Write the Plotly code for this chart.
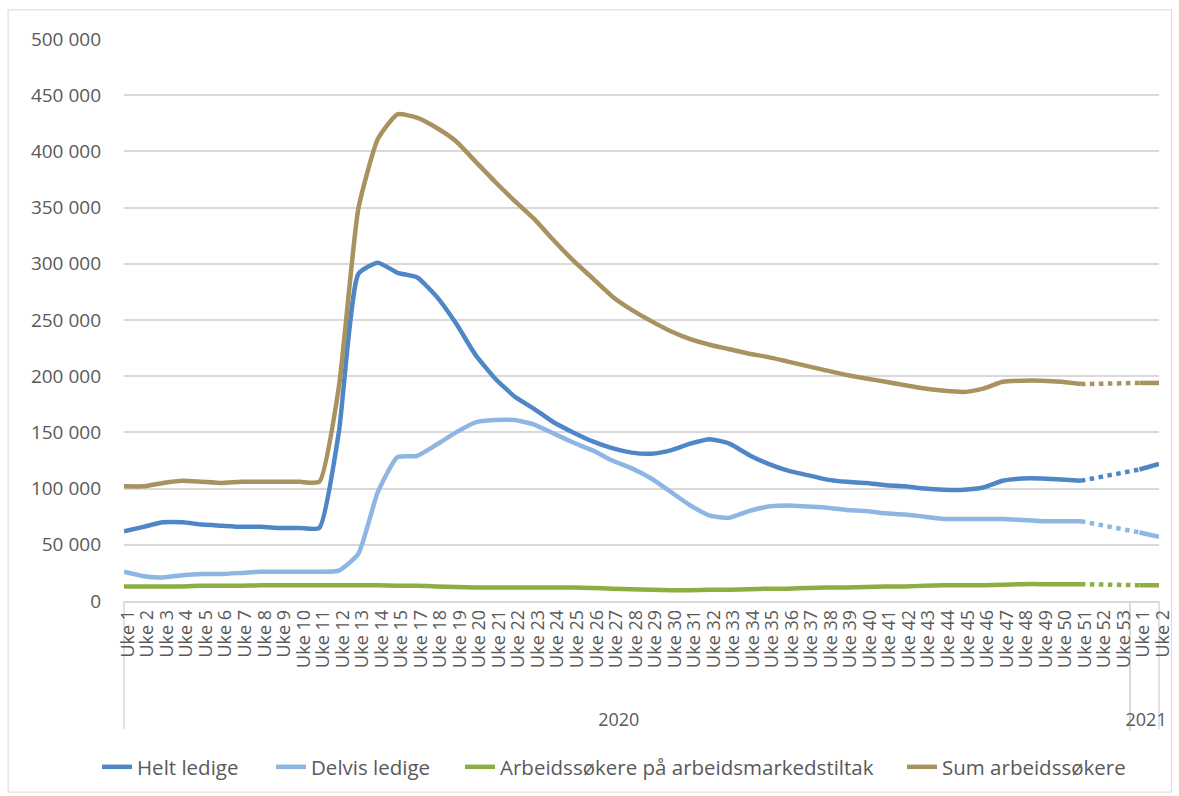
import plotly.graph_objects as go

weeks_2020 = [f"Uke {i}" for i in list(range(1, 16)) + list(range(17, 54))]
weeks_2021 = ["Uke 1", "Uke 2"]
year_labels = ["2020", "2021"]
years = [year_labels[0]] * len(weeks_2020) + [year_labels[1]] * len(weeks_2021)
weeks = weeks_2020 + weeks_2021

helt_ledige = [62000, 66000, 70000, 70000, 68000, 67000, 66000, 66000, 65000, 65000, 65000,
               150000, 291000, 301000, 292000, 288000, 271000, 247000, 219000, 198000, 182000,
               171000, 159000, 150000, 142000, 136000, 132000, 131000, 134000, 140000, 144000,
               140000, 130000, 122000, 116000, 112000, 108000, 106000, 105000, 103000, 102000,
               100000, 99000, 99000, 101000, 107000, 109000, 109000, 108000, 107000,
               None, None, 117000, 122000]
delvis_ledige = [26000, 22000, 21000, 23000, 24000, 24000, 25000, 26000, 26000, 26000, 26000,
                 27000, 42000, 97000, 128000, 129000, 139000, 150000, 159000, 161000, 161000,
                 157000, 149000, 141000, 134000, 125000, 118000, 109000, 97000, 85000, 76000,
                 74000, 80000, 84000, 85000, 84000, 83000, 81000, 80000, 78000, 77000,
                 75000, 73000, 73000, 73000, 73000, 72000, 71000, 71000, 71000,
                 None, None, 61000, 57000]
tiltak = [13000, 13000, 13000, 13000, 13500, 13500, 13500, 14000, 14000, 14000, 14000,
          14000, 14000, 14000, 13500, 13500, 13000, 12500, 12000, 12000, 12000,
          12000, 12000, 12000, 11500, 11000, 10500, 10000, 9500, 9500, 10000,
          10000, 10500, 11000, 11000, 11500, 12000, 12000, 12500, 13000, 13000,
          13500, 14000, 14000, 14000, 14500, 15000, 15000, 15000, 15000,
          None, None, 14000, 14000]
sum_arbeidssokere = [102000, 102000, 105000, 107000, 106000, 105000, 106000, 106000, 106000, 106000, 106000,
                     190000, 349000, 411000, 433000, 430000, 421000, 409000, 391000, 373000, 356000,
                     340000, 321000, 303000, 287000, 271000, 259000, 249000, 240000, 233000, 228000,
                     224000, 220000, 217000, 213000, 209000, 205000, 201000, 198000, 195000, 192000,
                     189000, 187000, 186000, 189000, 195000, 196000, 196000, 195000, 193000,
                     None, None, 194000, 194000]

series = [
    ("Helt ledige", helt_ledige, "#4F86C6", "legend", 97),
    ("Delvis ledige", delvis_ledige, "#8DB6E3", "legend2", 271),
    ("Arbeidssøkere på arbeidsmarkedstiltak", tiltak, "#8DAE44", "legend3", 460),
    ("Sum arbeidssøkere", sum_arbeidssokere, "#A8925F", "legend4", 902),
]

x = [["<br>" + y for y in years], weeks]
gap_start = len(weeks_2020) - 3  # Uke 51
gap_end = len(weeks_2020)        # Uke 1 2021

W, H = 1179, 796
fig = go.Figure()
legends = {}
for name, vals, color, lg, lx in series:
    solid_a = [v if i <= gap_start else None for i, v in enumerate(vals)]
    solid_b = [v if i >= gap_end else None for i, v in enumerate(vals)]
    fig.add_trace(go.Scatter(x=x, y=solid_a, name=name, mode="lines", legend=lg,
                             line=dict(color=color, width=4.5, shape="spline", smoothing=0.5),
                             connectgaps=False))
    fig.add_trace(go.Scatter(x=x, y=solid_b, name=name, mode="lines", showlegend=False,
                             line=dict(color=color, width=4.5, shape="spline", smoothing=0.5),
                             connectgaps=False))
    dotted = [v if i in (gap_start, gap_end) else None for i, v in enumerate(vals)]
    fig.add_trace(go.Scatter(x=x, y=dotted, mode="lines", showlegend=False,
                             line=dict(color=color, width=4.5, dash="dot"),
                             connectgaps=True))
    legends[lg] = dict(orientation="h", xref="container", yref="container",
                       x=lx / W, xanchor="left", y=(H - 767) / H, yanchor="middle",
                       font=dict(size=20.5, color="#595959"), bgcolor="rgba(0,0,0,0)")

edge_lines = [dict(type="line", xref="paper", yref="paper", x0=xp, x1=xp, y0=0, y1=-0.228,
                   line=dict(color="#D9D9D9", width=1.5), layer="below") for xp in (0, 1)]

fig.update_layout(
    width=W, height=H,
    margin=dict(l=124, r=16, t=39, b=195),
    plot_bgcolor="white", paper_bgcolor="white",
    separators=", ",
    font=dict(family="Open Sans, Liberation Sans, sans-serif", color="#595959"),
    shapes=[dict(type="rect", xref="paper", yref="paper",
                 x0=-0.112, x1=1.012, y0=-0.34, y1=1.052,
                 line=dict(color="#D9D9D9", width=1), layer="below")] + edge_lines,
    **legends,
)
fig.update_yaxes(range=[0, 500000], dtick=50000, tickformat=",d",
                 gridcolor="#D9D9D9", gridwidth=1.5, zeroline=False,
                 showline=False, ticks="", tickfont=dict(size=19, color="#595959"),
                 ticklabelstandoff=22)
fig.update_xaxes(type="multicategory", tickangle=-90, showline=True, linecolor="#D9D9D9",
                 linewidth=1.5, showgrid=False, ticks="", dtick=1, tickmode="linear",
                 tickfont=dict(size=18, color="#595959"), ticklabelshift=4,
                 showdividers=True, dividercolor="#D9D9D9", dividerwidth=1.5)

fig.write_html("out.html", post_script="document.body.style.margin='0';",
               config={"displayModeBar": False})
